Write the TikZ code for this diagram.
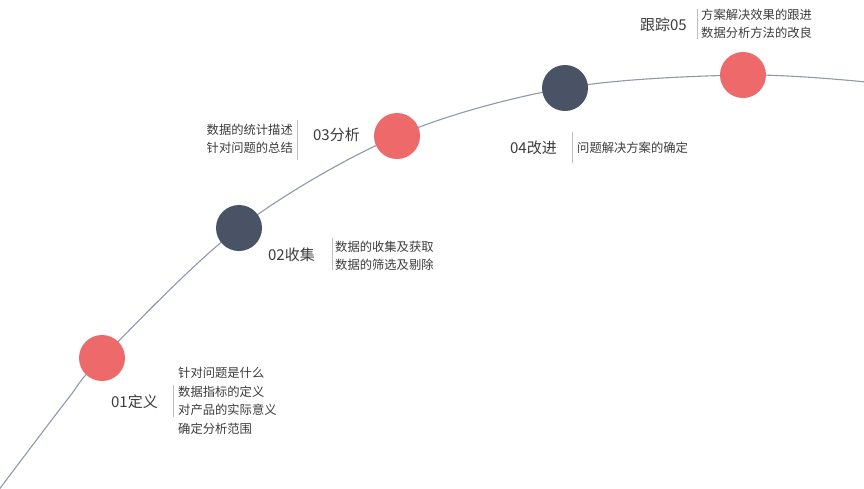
\documentclass[tikz,border=0pt]{standalone}
\usepackage{fontspec}
\setmainfont{Noto Sans CJK SC}
\definecolor{cred}{HTML}{EE6A6A}
\definecolor{cdark}{HTML}{4A5366}
\definecolor{ccurve}{HTML}{8F98AC}
\definecolor{ctext}{HTML}{3C3C3C}
\definecolor{csep}{HTML}{BDBDBD}
\begin{document}
\begin{tikzpicture}[x=1pt,y=-1pt,
  dot/.style={circle,minimum size=46pt,inner sep=0pt,draw=none},
  reddot/.style={dot,fill=cred},
  darkdot/.style={dot,fill=cdark},
  lbl/.style={inner sep=0pt,text=ctext,font=\fontsize{15}{18}\selectfont},
  desc/.style={inner sep=0pt,text=ctext,align=left,font=\fontsize{12.3}{18.5}\selectfont},
  sep/.style={draw=csep,line width=0.8pt}]
\useasboundingbox (0,0) rectangle (864,488);
\fill[white] (0,0) rectangle (864,488);
\draw[ccurve,line width=1.1pt] plot[smooth,tension=0.55] coordinates {(-2,491) (67,400) (102,358) (239,228) (397,136) (565,88) (743,75) (866,82)};
\node[reddot] (c1) at (102,358) {};
\node[darkdot] (c2) at (239,228) {};
\node[reddot] (c3) at (397,136) {};
\node[darkdot] (c4) at (565,88) {};
\node[reddot] (c5) at (743,75) {};
% labels
\node[lbl,anchor=east] (l1) at (158,402) {01定义};
\node[lbl,anchor=east] (l2) at (315,255) {02收集};
\node[lbl,anchor=east] (l3) at (360,135) {03分析};
\node[lbl,anchor=east] (l4) at (557,148) {04改进};
\node[lbl,anchor=east] (l5) at (687,25) {跟踪05};
% descriptions
\node[desc,anchor=west] (d1) at (178,401) {针对问题是什么\\数据指标的定义\\对产品的实际意义\\确定分析范围};
\node[desc,anchor=west] (d2) at (335,256) {数据的收集及获取\\数据的筛选及剔除};
\node[desc,anchor=east] (d3) at (293,139) {数据的统计描述\\针对问题的总结};
\node[desc,anchor=west] (d4) at (577,148) {问题解决方案的确定};
\node[desc,anchor=west] (d5) at (701,24) {方案解决效果的跟进\\数据分析方法的改良};
% separators
\coordinate (s1a) at (173,385); \coordinate (s1b) at (173,417);
\coordinate (s2a) at (332,238); \coordinate (s2b) at (332,270);
\coordinate (s3a) at (297,120); \coordinate (s3b) at (297,160);
\coordinate (s4a) at (572,132); \coordinate (s4b) at (572,163);
\coordinate (s5a) at (697,9);   \coordinate (s5b) at (697,39);
\draw[sep] (s1a) -- (s1b);
\draw[sep] (s2a) -- (s2b);
\draw[sep] (s3a) -- (s3b);
\draw[sep] (s4a) -- (s4b);
\draw[sep] (s5a) -- (s5b);
\end{tikzpicture}
\end{document}
